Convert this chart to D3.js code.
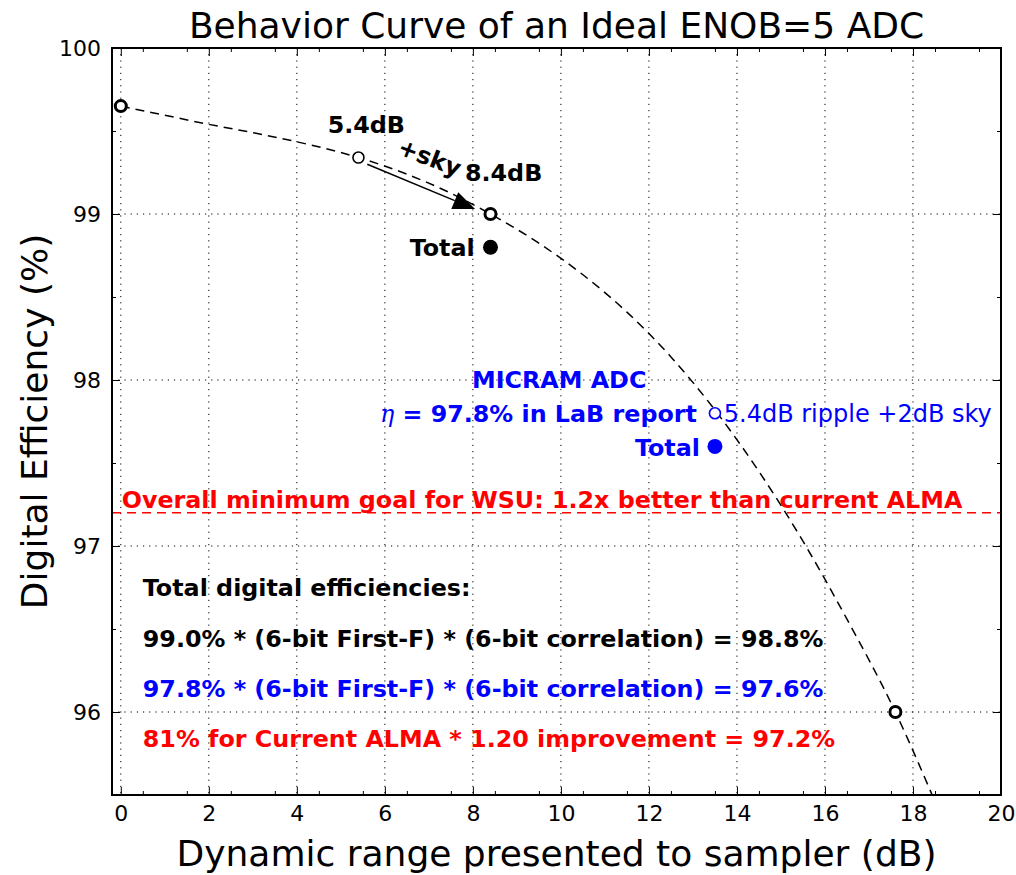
<!DOCTYPE html>
<html>
<head>
<meta charset="utf-8">
<script src="https://cdn.jsdelivr.net/npm/d3@7"></script>
<style>
  body { margin: 0; background: #fff; }
  svg text { font-family: "DejaVu Sans", sans-serif; }
  .axis path { display: none; }
  .axis line { stroke: #000; stroke-width: 1; }
  .axis text { font-size: 22px; fill: #000; }
  .grid line { stroke: #000; stroke-width: 1; stroke-dasharray: 1.2, 5; }
  .note { font-size: 23.8px; font-weight: bold; }
</style>
</head>
<body>
<svg id="chart"></svg>
<script>
const chartSize = { width: 1016, height: 875 };
const margin = { left: 112, right: 15, top: 48, bottom: 80 };
const width = chartSize.width - margin.left - margin.right;
const height = chartSize.height - margin.top - margin.bottom;

// behaviour curve (dB, %)
const curveDR = [0, 1, 2, 3, 4, 5.4, 6.5, 7.5, 8.4, 9.5, 10.5, 11.5, 12.5, 13.5, 14.5, 15.5, 16.5, 17.6, 18.5];
const curveEff = [99.65, 99.595, 99.54, 99.49, 99.435, 99.34, 99.24, 99.125, 99.0, 98.824, 98.634,
  98.409, 98.139, 97.819, 97.449, 97.029, 96.559, 96.0, 95.46];

// ideal ENOB=5 operating points
const idealDR = [0, 8.4, 17.6];
const idealEff = [99.65, 99.0, 96.0];
const rippleDR = [5.4];
const rippleEff = [99.34];
const totalDR = [8.4];
const totalEff = [98.8];

// MICRAM ADC
const micramDR = [13.5];
const micramEff = [97.8];
const micramTotalDR = [13.5];
const micramTotalEff = [97.6];

const goalEff = 97.2;

const xTicks = [0, 2, 4, 6, 8, 10, 12, 14, 16, 18, 20];
const yTicks = [96, 97, 98, 99, 100];
const xMinor = d3.range(0.5, 20, 1);
const yMinor = [95.5, 96.5, 97.5, 98.5, 99.5];

const zip = (xs, ys) => xs.map((d, i) => [d, ys[i]]);

const svg = d3.select("#chart")
  .attr("width", chartSize.width)
  .attr("height", chartSize.height);

const g = svg.append("g")
  .attr("transform", `translate(${margin.left},${margin.top})`);

const x = d3.scaleLinear().domain([-0.2, 20]).range([0, width]);
const y = d3.scaleLinear().domain([95.5, 100]).range([height, 0]);

svg.append("defs").append("clipPath").attr("id", "plot-clip")
  .append("rect").attr("width", width).attr("height", height);

// grid
const grid = g.append("g").attr("class", "grid");
grid.selectAll(".vx").data(xTicks).enter().append("line")
  .attr("x1", d => x(d)).attr("x2", d => x(d))
  .attr("y1", 0).attr("y2", height);
grid.selectAll(".hy").data(yTicks).enter().append("line")
  .attr("x1", 0).attr("x2", width)
  .attr("y1", d => y(d)).attr("y2", d => y(d));

// axes: ticks pointing in, on all four sides
g.append("g").attr("class", "axis")
  .attr("transform", `translate(0,${height})`)
  .call(d3.axisBottom(x).tickValues(xTicks).tickSize(-8).tickPadding(10).tickFormat(d3.format("d")));
g.append("g").attr("class", "axis")
  .attr("transform", `translate(0,${height})`)
  .call(d3.axisBottom(x).tickValues(xMinor).tickSize(-4).tickFormat(""));
g.append("g").attr("class", "axis")
  .call(d3.axisTop(x).tickValues(xTicks).tickSize(-8).tickFormat(""));
g.append("g").attr("class", "axis")
  .call(d3.axisTop(x).tickValues(xMinor).tickSize(-4).tickFormat(""));

g.append("g").attr("class", "axis")
  .call(d3.axisLeft(y).tickValues(yTicks).tickSize(-8).tickPadding(11).tickFormat(d3.format("d")));
g.append("g").attr("class", "axis")
  .call(d3.axisLeft(y).tickValues(yMinor).tickSize(-4).tickFormat(""));
g.append("g").attr("class", "axis")
  .attr("transform", `translate(${width},0)`)
  .call(d3.axisRight(y).tickValues(yTicks).tickSize(-8).tickFormat(""));
g.append("g").attr("class", "axis")
  .attr("transform", `translate(${width},0)`)
  .call(d3.axisRight(y).tickValues(yMinor).tickSize(-4).tickFormat(""));

// goal line
g.append("line")
  .attr("x1", 0).attr("x2", width)
  .attr("y1", y(goalEff)).attr("y2", y(goalEff))
  .attr("stroke", "#ff0000").attr("stroke-width", 1.5)
  .attr("stroke-dasharray", "9,6");

// behaviour curve
const line = d3.line().x(d => x(d[0])).y(d => y(d[1])).curve(d3.curveMonotoneX);
g.append("path")
  .datum(zip(curveDR, curveEff))
  .attr("clip-path", "url(#plot-clip)")
  .attr("d", line)
  .attr("fill", "none")
  .attr("stroke", "#000")
  .attr("stroke-width", 1.5)
  .attr("stroke-dasharray", "9,6");

// arrow 5.4dB -> 8.4dB
const a0 = [x(5.6), y(99.3)];
const a1 = [x(8.05), y(99.03)];
const ang = Math.atan2(a1[1] - a0[1], a1[0] - a0[0]);
const headLen = 22, headHalf = 9;
const base = [a1[0] - headLen * Math.cos(ang), a1[1] - headLen * Math.sin(ang)];
g.append("line")
  .attr("x1", a0[0]).attr("y1", a0[1]).attr("x2", base[0]).attr("y2", base[1])
  .attr("stroke", "#000").attr("stroke-width", 1.5);
g.append("path")
  .attr("d", `M${a1[0]},${a1[1]}L${base[0] + headHalf * Math.sin(ang)},${base[1] - headHalf * Math.cos(ang)}L${base[0] - headHalf * Math.sin(ang)},${base[1] + headHalf * Math.cos(ang)}Z`)
  .attr("fill", "#000");

// markers
const openDot = (data, color, r, sw) =>
  g.append("g").selectAll("circle").data(data).enter().append("circle")
    .attr("cx", d => x(d[0])).attr("cy", d => y(d[1])).attr("r", r)
    .attr("fill", "#fff").attr("stroke", color).attr("stroke-width", sw);
const fullDot = (data, color) =>
  g.append("g").selectAll("circle").data(data).enter().append("circle")
    .attr("cx", d => x(d[0])).attr("cy", d => y(d[1])).attr("r", 7.5)
    .attr("fill", color);

openDot(zip(idealDR, idealEff), "#000", 5.5, 3);
openDot(zip(rippleDR, rippleEff), "#000", 5.5, 1.6);
openDot(zip(micramDR, micramEff), "#0000ff", 5.5, 1.6);
fullDot(zip(totalDR, totalEff), "#000");
fullDot(zip(micramTotalDR, micramTotalEff), "#0000ff");

// annotations
const note = (tx, ty, text, color, anchor) =>
  g.append("text").attr("class", "note")
    .attr("x", x(tx)).attr("y", y(ty))
    .attr("fill", color).attr("text-anchor", anchor || "start")
    .text(text);

note(4.7, 99.49, "5.4dB", "#000");
g.append("text").attr("class", "note")
  .attr("transform", `translate(${x(7.02)},${y(99.34)}) rotate(21)`)
  .attr("text-anchor", "middle").attr("dy", "0.35em")
  .text("+sky");
note(7.82, 99.2, "8.4dB", "#000");
note(8.04, 98.75, "Total", "#000", "end");

note(7.98, 97.95, "MICRAM ADC", "#0000ff");
const eta = g.append("text").attr("class", "note")
  .attr("x", x(13.09)).attr("y", y(97.75))
  .attr("fill", "#0000ff").attr("text-anchor", "end");
eta.append("tspan").attr("font-family", "DejaVu Serif").attr("font-style", "italic")
  .attr("font-weight", "normal").text("η");
eta.append("tspan").text(" = 97.8% in LaB report");
g.append("text")
  .attr("x", x(13.7)).attr("y", y(97.75))
  .attr("fill", "#0000ff").attr("font-size", "24px")
  .text("5.4dB ripple +2dB sky");
note(13.16, 97.54, "Total", "#0000ff", "end");

note(0.02, 97.226, "Overall minimum goal for WSU: 1.2x better than current ALMA", "#ff0000");

note(0.5, 96.7, "Total digital efficiencies:", "#000");
note(0.5, 96.39, "99.0% * (6-bit First-F) * (6-bit correlation) = 98.8%", "#000");
note(0.5, 96.09, "97.8% * (6-bit First-F) * (6-bit correlation) = 97.6%", "#0000ff");
note(0.5, 95.79, "81% for Current ALMA * 1.20 improvement = 97.2%", "#ff0000");

// frame
g.append("rect")
  .attr("width", width).attr("height", height)
  .attr("fill", "none").attr("stroke", "#000").attr("stroke-width", 2);

// titles
svg.append("text")
  .attr("x", margin.left + width / 2).attr("y", 38)
  .attr("text-anchor", "middle").attr("font-size", "36px")
  .text("Behavior Curve of an Ideal ENOB=5 ADC");
svg.append("text")
  .attr("x", margin.left + width / 2).attr("y", 866)
  .attr("text-anchor", "middle").attr("font-size", "36px")
  .text("Dynamic range presented to sampler (dB)");
svg.append("text")
  .attr("transform", `translate(47,${margin.top + height / 2}) rotate(-90)`)
  .attr("text-anchor", "middle").attr("font-size", "36px")
  .text("Digital Efficiency (%)");
</script>
</body>
</html>
